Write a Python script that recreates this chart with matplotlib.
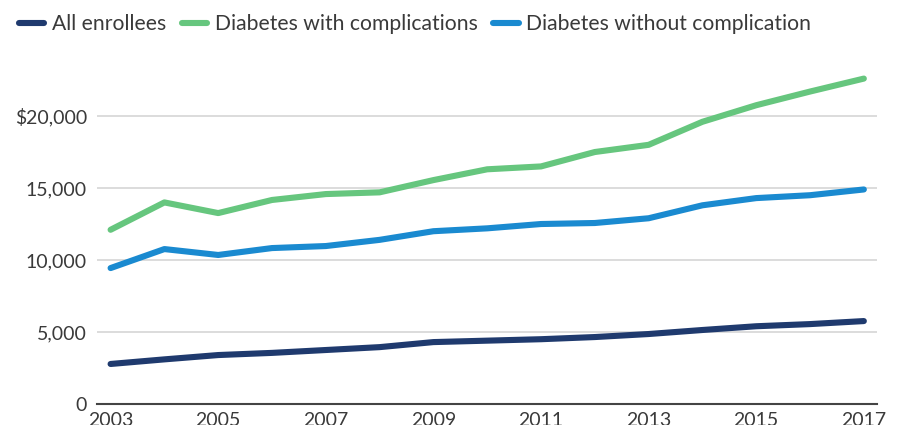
import matplotlib.pyplot as plt
from matplotlib.ticker import FuncFormatter

years = list(range(2003, 2018))
all_enrollees = [2780, 3100, 3400, 3550, 3750, 3950, 4300, 4400, 4500, 4650, 4860, 5140, 5400, 5550, 5760]
with_compl = [12100, 14000, 13260, 14170, 14580, 14700, 15550, 16300, 16500, 17500, 18000, 19600, 20750, 21700, 22600]
without_compl = [9440, 10760, 10350, 10830, 10970, 11400, 12000, 12200, 12500, 12570, 12900, 13800, 14300, 14500, 14900]

yticks = [0, 5000, 10000, 15000, 20000]
xticks = [2003, 2005, 2007, 2009, 2011, 2013, 2015, 2017]

plt.rcParams['font.family'] = ['Lato', 'DejaVu Sans']
text_color = '#3a3a3a'

fig = plt.figure(figsize=(9.2, 4.25), dpi=100)
ax = fig.add_axes([0.105, 0.0494, 0.848, 0.847])

ax.plot(years, all_enrollees, color='#1f3a6e', lw=4.4, solid_capstyle='round', label='All enrollees', zorder=3)
ax.plot(years, with_compl, color='#66c67e', lw=4.4, solid_capstyle='round', label='Diabetes with complications', zorder=3)
ax.plot(years, without_compl, color='#1a8ad0', lw=4.4, solid_capstyle='round', label='Diabetes without complication', zorder=3)

ax.set_xlim(2002.74, 2017.24)
ax.set_ylim(0, 25000)
ax.set_yticks(yticks)
ax.set_xticks(xticks)
ax.yaxis.set_major_formatter(FuncFormatter(lambda v, p: '${:,.0f}'.format(v) if v == 20000 else '{:,.0f}'.format(v)))

ax.grid(axis='y', color='#d9d9d9', lw=1.3, zorder=0)
for s in ['top', 'right', 'left']:
    ax.spines[s].set_visible(False)
ax.spines['bottom'].set_color('#444444')
ax.spines['bottom'].set_linewidth(1.5)
ax.tick_params(axis='both', length=0, labelsize=14, colors=text_color)
ax.tick_params(axis='y', pad=7)
ax.tick_params(axis='x', pad=6)

leg = fig.legend(loc='upper left', bbox_to_anchor=(0.0, 1.012), ncol=3, frameon=False,
                 fontsize=15.2, handlelength=1.2, handletextpad=0.35, columnspacing=0.75)
for t in leg.get_texts():
    t.set_color(text_color)

fig.savefig('out.png', dpi=100)
